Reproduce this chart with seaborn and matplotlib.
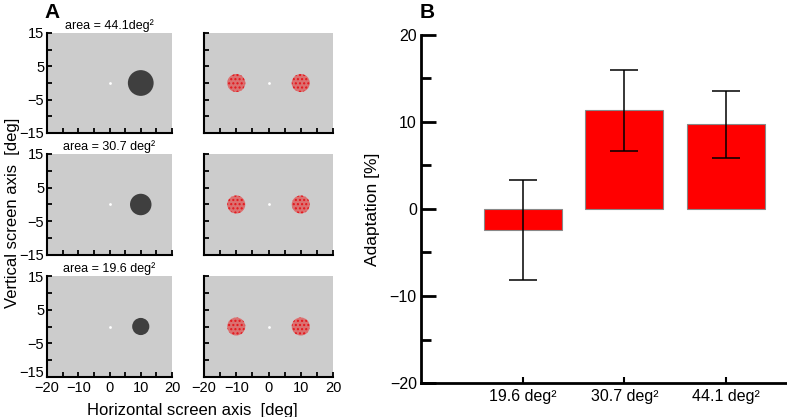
#!/usr/bin/env python3
"""Stimulus layouts (A) and adaptation per target area (B)."""

import matplotlib
matplotlib.use("Agg")
import matplotlib.pyplot as plt
from matplotlib.patches import Ellipse
import numpy as np
import pandas as pd
import seaborn as sns

sns.set_style("ticks")
plt.rcParams["font.family"] = ["Liberation Sans", "DejaVu Sans"]
plt.rcParams["hatch.linewidth"] = 1.0
for k in ["text.color", "axes.labelcolor", "xtick.color", "ytick.color"]:
    plt.rcParams[k] = "black"

# panel A: stimuli
areas = [44.1, 30.7, 19.6]
area_titles = ["area = 44.1deg²", "area = 30.7 deg²", "area = 19.6 deg²"]
target_x, target_y = 10, 0
cloud_x = [-10, 10]
cloud_radius = 2.8
fix_x, fix_y = [0], [0]

# panel B: adaptation
conditions = ["19.6 deg²", "30.7 deg²", "44.1 deg²"]
adaptation = [-2.45, 11.35, 9.75]
adaptation_err = [5.75, 4.65, 3.85]

W, H = 787, 417
fig = plt.figure(figsize=(W / 100, H / 100), dpi=100)

bg = "#cccccc"
left_cols = [(47, 125), (204, 129)]
rows = [(33, 100), (154, 101), (276, 101)]


def style_stim(ax, show_x, show_y):
    ax.set_facecolor(bg)
    ax.set_xlim(-20, 20)
    ax.set_ylim(-15, 15)
    ax.set_xticks(np.arange(-20, 21, 5))
    ax.set_xticklabels(["−20", "", "−10", "", "0", "", "10", "", "20"] if show_x else [])
    ax.set_yticks(np.arange(-15, 16, 5))
    ax.set_yticklabels(["−15", "", "−5", "", "5", "", "15"] if show_y else [])
    ax.tick_params(axis="y", direction="in", length=3.5, width=1.3, labelsize=10.5, pad=2)
    ax.tick_params(axis="x", direction="in", length=3.5, width=1.3, labelsize=10.5, pad=3)
    for s in ["top", "right"]:
        ax.spines[s].set_visible(False)
    for s in ["left", "bottom"]:
        ax.spines[s].set_linewidth(1.5)
        ax.spines[s].set_color("black")
    ax.set_xlabel("")
    ax.set_ylabel("")
    if show_x and show_y:
        # lift the lowest y label a little so it clears the x labels
        ax.get_yticklabels()[0].set_va("baseline")


for r, (top, h) in enumerate(rows):
    for c, (left, w) in enumerate(left_cols):
        ax = fig.add_axes([left / W, 1 - (top + h) / H, w / W, h / H])
        # keep circles round on screen
        aspect = (w / 40) / (h / 30)
        if c == 0:
            rad = np.sqrt(areas[r] / np.pi) * 1.1
            ax.add_patch(Ellipse((target_x, target_y), 2 * rad, 2 * rad * aspect,
                                 facecolor="#3f3f3f", edgecolor="none", zorder=2))
            ax.set_title(area_titles[r], fontsize=9, pad=3)
        else:
            for cx in cloud_x:
                ax.add_patch(Ellipse((cx, target_y), 2 * cloud_radius, 2 * cloud_radius * aspect,
                                     facecolor="#dc7070", edgecolor="#e3151b", linewidth=0,
                                     hatch="....", zorder=2))
        sns.scatterplot(x=fix_x, y=fix_y, ax=ax, color="white", s=4, linewidth=0, zorder=3)
        style_stim(ax, show_x=(r == 2), show_y=(c == 0))

fig.text(0.016, 0.49, "Vertical screen axis  [deg]", rotation=90, ha="center", va="center",
         fontsize=12)
fig.text(192 / W, 1 - 410 / H, "Horizontal screen axis  [deg]", ha="center", va="center",
         fontsize=12)
fig.text(52 / W, 1 - 12 / H, "A", ha="center", va="center", fontsize=15, fontweight="bold")
fig.text(427 / W, 1 - 12 / H, "B", ha="center", va="center", fontsize=15, fontweight="bold")

# panel B
axb = fig.add_axes([421 / W, 1 - 383 / H, 366 / W, 348 / H])
df = pd.DataFrame({"condition": conditions, "adaptation": adaptation})
sns.barplot(data=df, x="condition", y="adaptation", order=conditions, color="#ff0000",
            saturation=1, width=0.77, edgecolor="#888888", linewidth=0.8, errorbar=None, ax=axb)
axb.errorbar(np.arange(len(conditions)), adaptation, yerr=adaptation_err, fmt="none",
             ecolor="black", elinewidth=1.1, capsize=10, capthick=1.1, zorder=4)
axb.set_xlim(-1, 2.6)
axb.set_ylim(-20, 20)
axb.set_yticks([-20, -10, 0, 10, 20])
axb.set_yticklabels(["−20", "−10", "0", "10", "20"])
axb.set_yticks([-15, -5, 5, 15], minor=True)
axb.tick_params(axis="y", which="major", direction="in", length=11, width=2, labelsize=11.5, pad=3)
axb.tick_params(axis="y", which="minor", direction="in", length=7, width=2)
axb.tick_params(axis="x", direction="in", length=4, width=1.5, labelsize=11.5, pad=4)
for s in ["top", "right"]:
    axb.spines[s].set_visible(False)
for s in ["left", "bottom"]:
    axb.spines[s].set_linewidth(2)
    axb.spines[s].set_color("black")
axb.set_xlabel("")
axb.set_ylabel("Adaptation [%]", fontsize=12.5)
axb.yaxis.set_label_coords(-0.112, 0.5)

fig.savefig("out.png", dpi=100)
